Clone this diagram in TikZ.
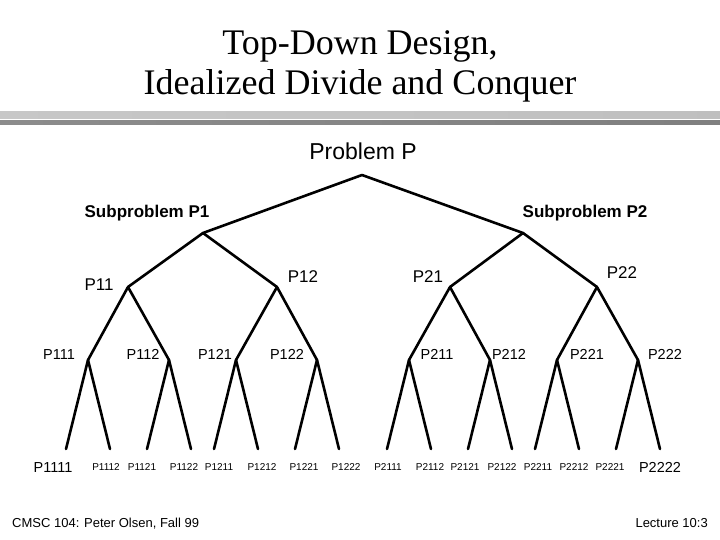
\documentclass[tikz,border=0pt]{standalone}
\usepackage{fontspec}
\setmainfont{Liberation Serif}
\setsansfont{Liberation Sans}
\usetikzlibrary{positioning}

\begin{document}
\begin{tikzpicture}[
    x=1bp, y=-1bp,
    edge/.style={line width=2.6bp, line cap=round, line join=round},
    ttl/.style={font=\rmfamily\fontsize{36bp}{40bp}\selectfont, anchor=base, inner sep=0pt},
    top/.style={font=\sffamily\fontsize{23bp}{26bp}\selectfont, anchor=base, inner sep=0pt},
    sub/.style={font=\sffamily\bfseries\fontsize{17bp}{20bp}\selectfont, anchor=base, inner sep=0pt},
    lvtwo/.style={font=\sffamily\fontsize{17bp}{20bp}\selectfont, anchor=base, inner sep=0pt},
    lvthree/.style={font=\sffamily\fontsize{14.5bp}{17bp}\selectfont, anchor=base, inner sep=0pt},
    leaf/.style={font=\sffamily\fontsize{10bp}{12bp}\selectfont, anchor=base, inner sep=0pt},
    foot/.style={font=\sffamily\fontsize{13bp}{16bp}\selectfont, anchor=base, inner sep=0pt},
  ]
    \useasboundingbox (0,0) rectangle (720,540);

    % title and rule
    \node[ttl] (t1) at (360,55) {Top-Down Design,};
    \node[ttl] (t2) at (360,95) {Idealized Divide and Conquer};
    \shade[left color=black!22, middle color=black!10, right color=black!25] (0,112) rectangle (720,119);
    \shade[left color=black!45, middle color=black!22, right color=black!50] (0,121) rectangle (720,125);

    % tree vertices
    \coordinate (root) at (362,175);
    \coordinate (p1) at (203,233);
    \coordinate (p2) at (523,233);
    \coordinate (p11) at (128,287);
    \coordinate (p12) at (277,287);
    \coordinate (p21) at (450,287);
    \coordinate (p22) at (597,287);
    \coordinate (p111) at (88,360);
    \coordinate (p112) at (169,360);
    \coordinate (p121) at (236,360);
    \coordinate (p122) at (317,360);
    \coordinate (p211) at (409,360);
    \coordinate (p212) at (490,360);
    \coordinate (p221) at (557,360);
    \coordinate (p222) at (638,360);

    \foreach \a/\b in {root/p1,root/p2,p1/p11,p1/p12,p2/p21,p2/p22,
                       p11/p111,p11/p112,p12/p121,p12/p122,
                       p21/p211,p21/p212,p22/p221,p22/p222}{
      \draw[edge] (\a) -- (\b);
    }
    \foreach \n/\x in {111/88,112/169,121/236,122/317,211/409,212/490,221/557,222/638}{
      \coordinate (p\n1) at (\x-22,449);
      \coordinate (p\n2) at (\x+22,449);
      \draw[edge] (p\n) -- (p\n1);
      \draw[edge] (p\n) -- (p\n2);
    }

    % labels
    \node[top] (lp) at (363,160) {Problem P};
    \node[sub] (ls1) at (147,218) {Subproblem P1};
    \node[sub] (ls2) at (585,218) {Subproblem P2};
    \node[lvtwo] (l11) at (99,290) {P11};
    \node[lvtwo] (l12) at (303,283) {P12};
    \node[lvtwo] (l21) at (428,283) {P21};
    \node[lvtwo] (l22) at (622,279) {P22};
    \foreach \n/\x in {111/59,112/143,121/215,122/287,211/437,212/509,221/587,222/665}{
      \node[lvthree] (l\n) at (\x,359) {P\n};
    }
    \node[lvthree] (l1111) at (53,472) {P1111};
    \node[lvthree] (l2222) at (660,472) {P2222};
    \foreach \n/\x in {1112/106,1121/142,1122/184,1211/219,1212/262,1221/304,1222/346,
                       2111/388,2112/430,2121/465,2122/502,2211/538,2212/574,2221/610}{
      \node[leaf] (l\n) at (\x,470) {P\n};
    }

    % footer
    \node[foot, anchor=base west] (fl) at (12,527) {CMSC 104: Peter Olsen, Fall 99};
    \node[foot, anchor=base east] (fr) at (708,527) {Lecture 10:3};
  \end{tikzpicture}
\end{document}
